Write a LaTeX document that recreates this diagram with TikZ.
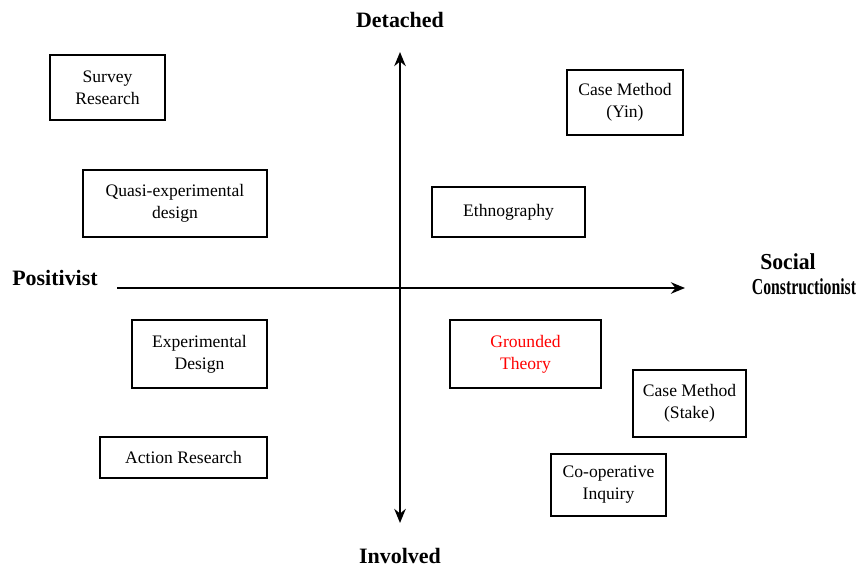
\documentclass[tikz,border=0pt]{standalone}
\usepackage{fontspec}
\setmainfont{Liberation Serif}
\usetikzlibrary{arrows.meta,positioning}

\tikzset{
	method/.style={draw,line width=0.7pt,align=center,font=\fontsize{10}{12.5}\selectfont,inner sep=2pt},
	axislabel/.style={font=\fontsize{12.5}{14}\selectfont\bfseries,align=center},
	axis/.style={line width=1.3pt,-{Stealth[length=8pt,width=6.5pt]}}
}

\begin{document}
\begin{tikzpicture}[x=0.02cm,y=-0.02cm]
	\useasboundingbox (0,0) rectangle (857,568);
	% axes
	\coordinate (top) at (400,52);
	\coordinate (bottom) at (400,523);
	\coordinate (left) at (117,288);
	\coordinate (right) at (685,288);
	\draw [axis] (left) to (right);
	\draw [axis,{Stealth[length=8pt,width=6.5pt]}-{Stealth[length=8pt,width=6.5pt]}] (bottom) to (top);
	\node [axislabel] (detached) at (400,20) {Detached};
	\node [axislabel] (involved) at (400,556) {Involved};
	\node [axislabel] (positivist) at (55,278) {Positivist};
	\node [axislabel,font=\fontsize{13}{14}\selectfont\bfseries] (social) at (788,262) {\scalebox{0.95}[1]{Social}};
	\node [axislabel,font=\fontsize{13}{14}\selectfont\bfseries] (constr) at (804,287) {\scalebox{0.69}[1]{Constructionist}};
	% methods
	\node [method,minimum width=115*0.02cm,minimum height=65*0.02cm] (survey) at (107.5,87.5) {Survey\\Research};
	\node [method,minimum width=116*0.02cm,minimum height=65*0.02cm] (yin) at (625,102.5) {Case Method\\(Yin)};
	\node [method,minimum width=184*0.02cm,minimum height=67*0.02cm] (quasi) at (175,203.5) {Quasi-experimental\\design};
	\node [method,minimum width=153*0.02cm,minimum height=50*0.02cm] (ethno) at (508.5,212) {Ethnography};
	\node [method,minimum width=135*0.02cm,minimum height=68*0.02cm] (experim) at (199.5,354) {Experimental\\Design};
	\node [method,minimum width=151*0.02cm,minimum height=68*0.02cm,text=red] (grounded) at (525.5,354) {Grounded\\Theory};
	\node [method,minimum width=113*0.02cm,minimum height=67*0.02cm] (stake) at (689.5,403.5) {Case Method\\(Stake)};
	\node [method,minimum width=167*0.02cm,minimum height=41*0.02cm] (action) at (183.5,457.5) {Action Research};
	\node [method,minimum width=115*0.02cm,minimum height=62*0.02cm] (coop) at (608.5,485) {Co-operative\\Inquiry};
\end{tikzpicture}
\end{document}
